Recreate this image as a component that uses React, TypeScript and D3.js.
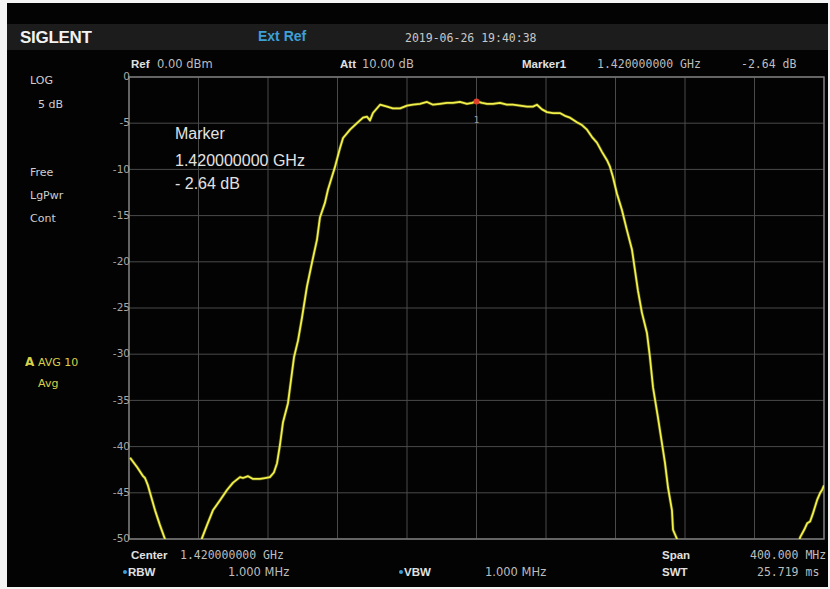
import React from 'react';
import * as d3 from 'd3';

// trace A: frequency in MHz, level in dB
const freqMHz = [
  1220.6, 1224.6, 1228.1, 1229.2, 1230.9, 1232.1, 1235.0, 1237.8, 1240.7, 1243.6,
  1250.0, 1259.7, 1262.0, 1264.9, 1268.3, 1272.4, 1276.4, 1279.9, 1283.9, 1285.6,
  1288.5, 1291.4, 1295.4, 1298.3, 1301.1, 1303.4, 1305.2, 1306.9, 1308.6, 1311.5,
  1313.8, 1315.0, 1317.3, 1319.6, 1322.4, 1325.3, 1328.2, 1329.9, 1332.8, 1334.5,
  1336.8, 1338.6, 1341.4, 1343.2, 1347.2, 1351.2, 1354.7, 1357.0, 1358.7, 1360.4,
  1364.5, 1368.5, 1371.9, 1376.0, 1380.0, 1383.4, 1387.5, 1391.5, 1395.0, 1399.0,
  1403.0, 1406.5, 1410.5, 1414.5, 1417.4, 1420.0, 1423.2, 1426.0, 1429.5, 1433.5,
  1437.5, 1441.0, 1445.0, 1449.1, 1452.5, 1454.8, 1457.7, 1460.6, 1464.0, 1468.0,
  1470.9, 1473.8, 1477.8, 1480.7, 1483.6, 1486.5, 1489.3, 1492.2, 1495.1, 1496.8,
  1498.5, 1500.8, 1503.7, 1506.6, 1509.5, 1511.2, 1512.9, 1515.2, 1518.1, 1519.8,
  1521.6, 1524.4, 1526.7, 1528.5, 1530.2, 1532.5, 1533.1, 1535.4, 1538.3, 1570.0,
  1603.3, 1606.3, 1608.6, 1610.3, 1612.0, 1613.7, 1616.0, 1617.8, 1618.9, 1620.0,
];
const levelDb = [
  -41.2, -42.2, -43.2, -43.4, -44.2, -45.0, -46.9, -48.5, -50.0, -52.3,
  -56.0, -52.0, -49.9, -48.5, -46.9, -45.8, -44.7, -43.9, -43.3, -43.4,
  -43.2, -43.5, -43.5, -43.4, -43.3, -42.8, -41.8, -39.8, -37.4, -35.3,
  -32.0, -30.3, -28.5, -26.0, -22.7, -20.1, -17.6, -15.2, -13.6, -12.2,
  -10.8, -9.7, -7.7, -6.6, -5.7, -5.0, -4.4, -4.3, -4.7, -3.9,
  -3.0, -3.2, -3.4, -3.4, -3.1, -3.0, -2.9, -2.7, -3.0, -2.9,
  -2.8, -2.8, -2.7, -2.9, -2.8, -2.64, -2.8, -2.9, -2.9, -2.8,
  -3.0, -3.0, -3.1, -3.2, -3.2, -3.0, -3.5, -3.8, -3.9, -3.9,
  -4.2, -4.4, -4.9, -5.2, -5.7, -6.5, -7.1, -8.1, -9.0, -9.7,
  -10.8, -12.6, -14.4, -16.6, -18.7, -20.9, -23.1, -25.5, -27.7, -30.3,
  -33.6, -36.8, -39.6, -41.8, -44.4, -46.9, -49.0, -50.0, -51.7, -55.0,
  -51.7, -49.8, -49.0, -48.3, -48.1, -47.2, -45.8, -45.0, -44.7, -44.2,
];
const yTicks = [0, -5, -10, -15, -20, -25, -30, -35, -40, -45, -50];
const markerFreq = 1420.0;
const markerDb = -2.64;

const W = 830;
const H = 589;
const plot = { left: 129, right: 824, top: 77, bottom: 539 };

const mono = '"DejaVu Sans Mono", "Liberation Mono", monospace';
const sans = '"DejaVu Sans", Verdana, sans-serif';
const narrow = '"Liberation Sans Narrow", "Liberation Sans", Arial, sans-serif';
const arial = '"Liberation Sans", Arial, sans-serif';

export default function App() {
  const x = d3.scaleLinear().domain([1220, 1620]).range([plot.left, plot.right]);
  const y = d3.scaleLinear().domain([0, -50]).range([plot.top, plot.bottom]);
  const pts = freqMHz.map((f, i) => [f, levelDb[i]] as [number, number]);
  const line = d3
    .line<[number, number]>()
    .x((d) => x(d[0]))
    .y((d) => y(d[1]))
    .curve(d3.curveLinear);
  const xGrid = d3.range(0, 11).map((i) => 1220 + i * 40);

  return (
    <svg
      width={W}
      height={H}
      style={{ position: 'absolute', left: 0, top: 0, display: 'block' }}
    >
      <rect x={0} y={0} width={W} height={H} fill="#f4f4f4" />
      <rect x={7} y={3} width={821} height={584} fill="#030303" />
      <rect x={7} y={24} width={821} height={26} fill="#1c1c1c" />

      {/* header */}
      <text x={20} y={43} fill="#f2f2f2" fontFamily={arial} fontWeight="bold" fontSize={17} letterSpacing={-0.3}>
        SIGLENT
      </text>
      <text x={258} y={41} fill="#3d9fd6" fontFamily={narrow} fontWeight="bold" fontSize={14}>
        Ext Ref
      </text>
      <text x={405} y={42} fill="#c8c8c8" fontFamily={mono} fontSize={11.5}>
        2019-06-26 19:40:38
      </text>

      <text y={68} fontSize={11.5}>
        <tspan x={131} fill="#e0e0e0" fontFamily={narrow} fontWeight="bold">Ref</tspan>
        <tspan x={157} fill="#bdbdbd" fontFamily={sans}>0.00 dBm</tspan>
        <tspan x={340} fill="#e0e0e0" fontFamily={narrow} fontWeight="bold">Att</tspan>
        <tspan x={362} fill="#bdbdbd" fontFamily={sans}>10.00 dB</tspan>
        <tspan x={522} fill="#e0e0e0" fontFamily={narrow} fontWeight="bold">Marker1</tspan>
        <tspan x={597} fill="#bdbdbd" fontFamily={mono}>1.420000000 GHz</tspan>
        <tspan x={741} fill="#bdbdbd" fontFamily={mono}>-2.64 dB</tspan>
      </text>

      {/* left panel */}
      <g fontFamily={sans} fontSize={11} fill="#cfcfcf">
        <text x={30} y={84}>LOG</text>
        <text x={38} y={108}>5 dB</text>
        <text x={30} y={176}>Free</text>
        <text x={30} y={199}>LgPwr</text>
        <text x={30} y={222}>Cont</text>
        <text x={25} y={366} fill="#d8d048">
          <tspan fontWeight="bold" fontSize={12}>A</tspan>
          <tspan x={38}>AVG 10</tspan>
        </text>
        <text x={38} y={387} fill="#d8d048">Avg</text>
      </g>

      {/* grid */}
      <g stroke="#4a4a4a" strokeWidth={1}>
        {xGrid.map((f) => (
          <line key={'v' + f} x1={x(f)} x2={x(f)} y1={plot.top} y2={plot.bottom} />
        ))}
        {yTicks.map((t) => (
          <line key={'h' + t} x1={plot.left} x2={plot.right} y1={y(t)} y2={y(t)} />
        ))}
      </g>
      <rect
        x={plot.left}
        y={plot.top}
        width={plot.right - plot.left}
        height={plot.bottom - plot.top}
        fill="none"
        stroke="#7a7a7a"
        strokeWidth={1.5}
      />
      <g fontFamily={sans} fontSize={10.5} fill="#a8a8a8" textAnchor="end">
        {yTicks.map((t) => (
          <text key={'t' + t} x={plot.left + 1} y={y(t)} dy="0.3em">
            {t}
          </text>
        ))}
      </g>

      {/* trace */}
      <clipPath id="plotClip">
        <rect x={plot.left} y={plot.top} width={plot.right - plot.left} height={plot.bottom - plot.top} />
      </clipPath>
      <g clipPath="url(#plotClip)">
        <path d={line(pts) || ''} fill="none" stroke="#8a8a20" strokeWidth={3.2} strokeOpacity={0.5} strokeLinejoin="round" />
        <path d={line(pts) || ''} fill="none" stroke="#f2f04a" strokeWidth={1.8} strokeLinejoin="round" />
      </g>

      {/* marker */}
      <circle cx={x(markerFreq)} cy={y(markerDb)} r={3} fill="#e0402a" />
      <text x={x(markerFreq)} y={y(markerDb) + 22} fill="#9a9a9a" fontFamily={sans} fontSize={9} textAnchor="middle">
        1
      </text>
      <g fontFamily={arial} fontSize={16} fill="#e2e2e2">
        <text x={175} y={139}>Marker</text>
        <text x={175} y={166}>1.420000000 GHz</text>
        <text x={175} y={189}>- 2.64 dB</text>
      </g>

      {/* bottom */}
      <g fontSize={11.5}>
        <text x={131} y={559} fill="#e0e0e0" fontFamily={narrow} fontWeight="bold">Center</text>
        <text x={180} y={559} fill="#bdbdbd" fontFamily={mono}>1.420000000 GHz</text>
        <circle cx={125} cy={572} r={2} fill="#3d9fd6" />
        <text x={128} y={576} fill="#e0e0e0" fontFamily={narrow} fontWeight="bold">RBW</text>
        <text x={228} y={576} fill="#bdbdbd" fontFamily={sans}>1.000 MHz</text>
        <circle cx={401} cy={572} r={2} fill="#3d9fd6" />
        <text x={404} y={576} fill="#e0e0e0" fontFamily={narrow} fontWeight="bold">VBW</text>
        <text x={485} y={576} fill="#bdbdbd" fontFamily={sans}>1.000 MHz</text>
        <text x={662} y={559} fill="#e0e0e0" fontFamily={narrow} fontWeight="bold">Span</text>
        <text x={750} y={559} fill="#bdbdbd" fontFamily={mono}>400.000 MHz</text>
        <text x={662} y={576} fill="#e0e0e0" fontFamily={narrow} fontWeight="bold">SWT</text>
        <text x={757} y={576} fill="#bdbdbd" fontFamily={mono}>25.719 ms</text>
      </g>
    </svg>
  );
}
